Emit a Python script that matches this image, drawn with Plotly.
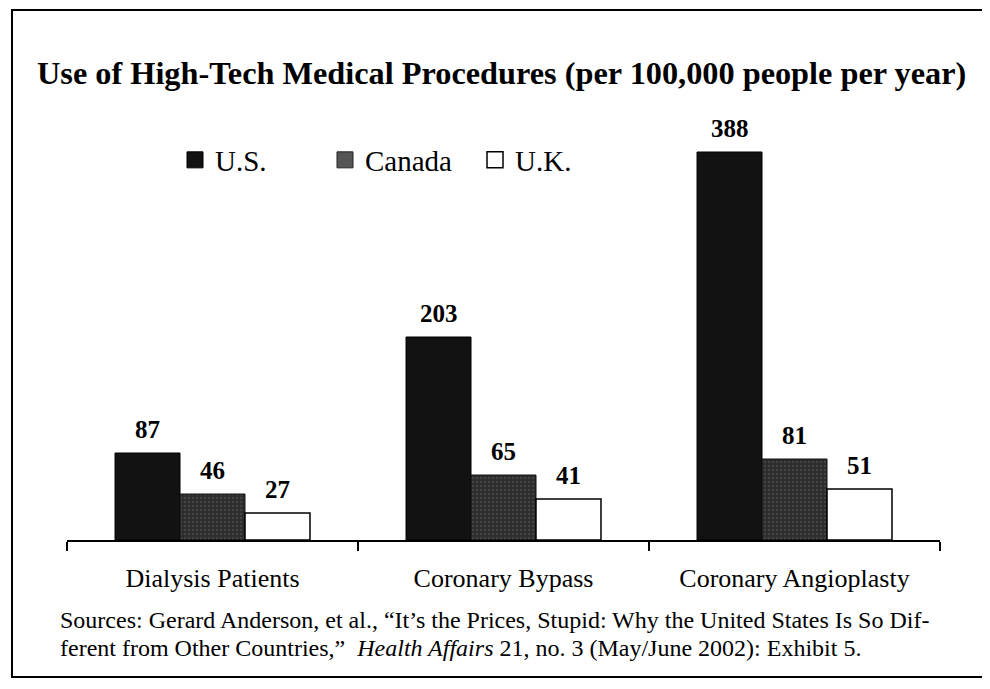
import plotly.graph_objects as go

categories = ["Dialysis Patients", "Coronary Bypass", "Coronary Angioplasty"]
series_names = ["U.S.", "Canada", "U.K."]
us_values = [87, 203, 388]
canada_values = [46, 65, 81]
uk_values = [27, 41, 51]

title_text = "Use of High-Tech Medical Procedures (per 100,000 people per year)"
source_line1 = "Sources: Gerard Anderson, et al., \u201cIt\u2019s the Prices, Stupid: Why the United States Is So Dif-"
source_line2 = "ferent from Other Countries,\u201d  <i>Health Affairs</i> 21, no. 3 (May/June 2002): Exhibit 5."

SERIF = "Liberation Serif, Times New Roman, serif"

W, H = 990, 689
OFF = 8  # page body margin
L, R, T, B = 59, 58, 132, 157
pw, ph = W - L - R, H - T - B
bargap = 0.33

def px_x(px):
    return (px - OFF - L) / pw

def px_y(py):
    return (H - B - (py - OFF)) / ph

fig = go.Figure()
bar_styles = [
    dict(color="#121212", line=dict(color="#000000", width=1)),
    dict(color="#343434", line=dict(color="#111111", width=1),
         pattern=dict(shape=".", fgcolor="#5a5a5a", bgcolor="#2c2c2c", size=4, solidity=0.3)),
    dict(color="#ffffff", line=dict(color="#000000", width=1.5)),
]
legend_styles = [
    dict(color="#121212", line=dict(color="#000000", width=1)),
    dict(color="#555555", line=dict(color="#222222", width=1)),
    dict(color="#ffffff", line=dict(color="#000000", width=1.5)),
]
all_values = [us_values, canada_values, uk_values]
for name, vals, st in zip(series_names, all_values, bar_styles):
    fig.add_trace(go.Bar(x=categories, y=vals, name=name, marker=st, showlegend=False))
for name, st in zip(series_names, legend_styles):
    fig.add_trace(go.Scatter(x=[None], y=[None], mode="markers", name=name,
                             marker=dict(symbol="square", size=18, **st)))

# value labels above bars
w = (1 - bargap) / 3
for j, vals in enumerate(all_values):
    for i, v in enumerate(vals):
        fig.add_annotation(x=i + (j - 1) * w, y=v, xref="x", yref="y", text=f"<b>{v}</b>",
                           showarrow=False, yanchor="bottom", yshift=8,
                           font=dict(family=SERIF, size=25, color="#000"))

fig.add_annotation(x=px_x(35), y=px_y(73), xref="paper", yref="paper", text=f"<b>{title_text}</b>",
                   showarrow=False, xanchor="left", yanchor="middle",
                   font=dict(family=SERIF, size=32.3, color="#000"))
fig.add_annotation(x=px_x(58), y=px_y(620), xref="paper", yref="paper", text=source_line1,
                   showarrow=False, xanchor="left", yanchor="middle", align="left",
                   font=dict(family=SERIF, size=24, color="#000"))
fig.add_annotation(x=px_x(58), y=px_y(648), xref="paper", yref="paper", text=source_line2,
                   showarrow=False, xanchor="left", yanchor="middle", align="left",
                   font=dict(family=SERIF, size=24, color="#000"))

# outer frame
fig.add_shape(type="rect", xref="paper", yref="paper",
              x0=px_x(12), x1=px_x(987), y0=px_y(677), y1=px_y(10),
              line=dict(color="#000", width=2))

fig.update_layout(
    width=W, height=H,
    margin=dict(l=L, r=R, t=T, b=B),
    paper_bgcolor="white", plot_bgcolor="white",
    barmode="group", bargap=bargap, bargroupgap=0,
    showlegend=True,
    legend=dict(orientation="h", x=px_x(175), y=px_y(160), xanchor="left", yanchor="middle",
                font=dict(family=SERIF, size=29, color="#000"), itemwidth=30,
                entrywidth=105, entrywidthmode="pixels",
                bgcolor="rgba(0,0,0,0)", traceorder="normal"),
    xaxis=dict(showline=True, linecolor="#000", linewidth=2, ticks="outside", tickson="boundaries",
               ticklen=9, tickwidth=1.5, tickcolor="#000", ticklabelstandoff=14,
               tickfont=dict(family=SERIF, size=26, color="#000"), showgrid=False),
    yaxis=dict(range=[0, 400], visible=False, showgrid=False),
)

fig.write_html("out.html")
